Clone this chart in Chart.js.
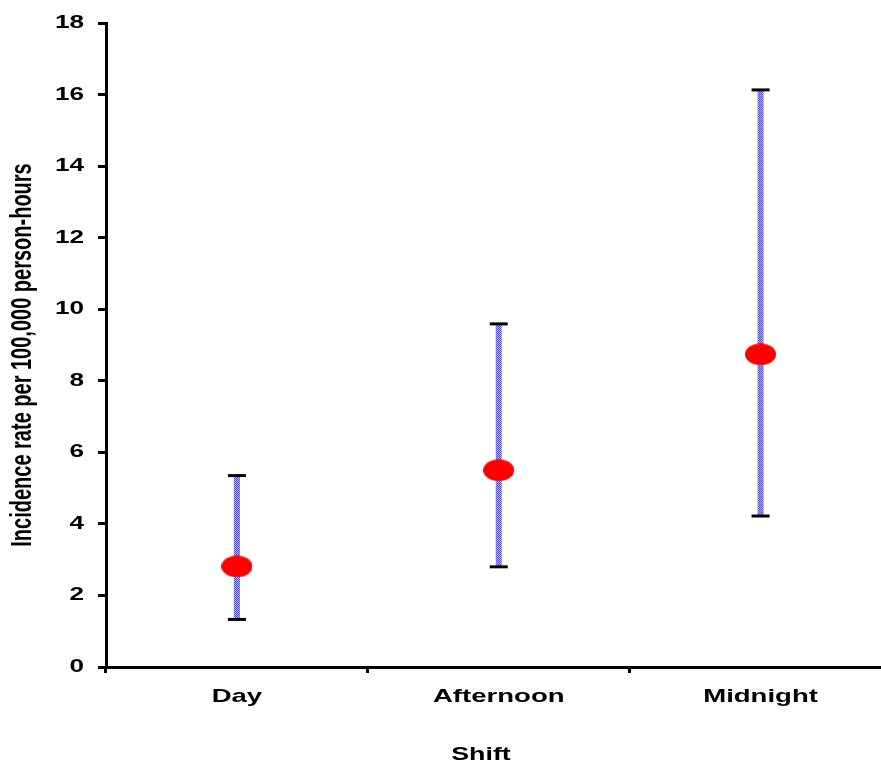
<!DOCTYPE html>
<html>
<head>
<meta charset="utf-8">
<script src="https://cdn.jsdelivr.net/npm/chart.js@4.4.1/dist/chart.umd.min.js"></script>
<style>
html, body { margin: 0; padding: 0; background: #fff; overflow: hidden; }
#contenedor { width: 881px; height: 764px; position: relative; }
</style>
</head>
<body>
<div id="contenedor"><canvas id="myChart"></canvas></div>
<script>
// datos
var Turnos = ['Day', 'Afternoon', 'Midnight']
var Incidencia = [2.81, 5.50, 8.74]
var Inferior = [1.33, 2.80, 4.22]
var Superior = [5.35, 9.59, 16.13]

var TituloY = 'Incidence rate per 100,000 person-hours'
var TituloX = 'Shift'

var FUENTE = "'Liberation Sans', Arial, sans-serif"
var K = 1.45 // el texto original esta estirado en horizontal

// punto eliptico rojo
var punto = document.createElement('canvas')
punto.width = 31
punto.height = 22
var pctx = punto.getContext('2d')
pctx.fillStyle = '#ff0000'
pctx.beginPath()
pctx.ellipse(15.5, 11, 15.5, 10.8, 0, 0, Math.PI * 2)
pctx.fill()

// trama azul de las barras de error
var trama = document.createElement('canvas')
trama.width = 2
trama.height = 2
var tctx = trama.getContext('2d')
tctx.fillStyle = '#aeb0ff'
tctx.fillRect(0, 0, 2, 2)
tctx.fillStyle = '#4a4cff'
tctx.fillRect(0, 0, 1, 1)
tctx.fillRect(1, 1, 1, 1)
var azul = document.getElementById('myChart').getContext('2d').createPattern(trama, 'repeat')

var datasets = []
datasets.push({
    type: 'scatter',
    label: 'Incidencia',
    data: Incidencia.map(function (v, i) { return { x: i, y: v } }),
    pointStyle: punto,
    pointRadius: 12
})
var extremos = []
for (var i = 0; i < Turnos.length; i++) {
    extremos.push({ x: i, y: Inferior[i] })
    extremos.push({ x: i, y: Superior[i] })
}
datasets.push({
    type: 'scatter',
    label: 'Extremos',
    data: extremos,
    pointStyle: 'line',
    pointRadius: 9,
    borderWidth: 3,
    borderColor: '#000000',
    backgroundColor: '#000000'
})
for (var j = 0; j < Turnos.length; j++) {
    datasets.push({
        type: 'line',
        label: 'IC ' + Turnos[j],
        data: [{ x: j, y: Inferior[j] }, { x: j, y: Superior[j] }],
        borderColor: azul,
        borderWidth: 6,
        borderCapStyle: 'butt',
        pointRadius: 0,
        fill: false
    })
}

// estirar etiquetas en horizontal manteniendo su posicion
function estirarEtiquetas(s) {
    var gli = s.getLabelItems
    s.getLabelItems = function (a) {
        return gli.call(this, a).map(function (it) {
            var op = Object.assign({}, it.options)
            op.translation = [it.options.translation[0] / K, it.options.translation[1]]
            return Object.assign({}, it, { options: op })
        })
    }
    var dl = s.drawLabels
    s.drawLabels = function (a) {
        var c = this.ctx
        c.save(); c.scale(K, 1)
        dl.call(this, a)
        c.restore()
    }
}

var estirado = {
    id: 'estirado',
    beforeDraw: function (chart) {
        var sx = chart.scales.x, sy = chart.scales.y
        if (sx._estirado) return
        estirarEtiquetas(sx)
        estirarEtiquetas(sy)
        var dtx = sx.drawTitle
        sx.drawTitle = function (a) {
            var c = this.ctx
            c.save()
            c.translate(481, 0); c.scale(K, 1); c.translate(-(this.left + this.right) / 2, 0)
            dtx.call(this, a)
            c.restore()
        }
        var dty = sy.drawTitle
        sy.drawTitle = function (a) {
            var c = this.ctx
            c.save()
            c.translate(0, 355); c.scale(1, 1 / K); c.translate(0, -(this.top + this.bottom) / 2)
            dty.call(this, a)
            c.restore()
        }
        sx._estirado = true
    }
}

var ctx = document.getElementById('myChart')
var myChart = new Chart(ctx, {
    type: 'scatter',
    data: { datasets: datasets },
    options: {
        responsive: true,
        maintainAspectRatio: false,
        animation: false,
        layout: { autoPadding: false, padding: { top: 23, left: 0, right: 0, bottom: 0 } },
        plugins: { legend: { display: false }, tooltip: { enabled: false } },
        scales: {
            x: {
                type: 'linear',
                min: -0.5,
                max: 2.46,
                afterBuildTicks: function (s) {
                    s.ticks = Turnos.map(function (t, i) { return { value: i } })
                },
                afterFit: function (s) {
                    s.height = 97
                    s.paddingLeft = 0
                    s.paddingRight = 0
                },
                ticks: {
                    autoSkip: false,
                    maxRotation: 0,
                    padding: 12,
                    color: '#000000',
                    font: { family: FUENTE, size: 19, weight: 'bold' },
                    callback: function (v, i) { return Turnos[i] }
                },
                grid: { offset: true, drawOnChartArea: false, tickLength: 6, tickWidth: 3, color: '#000000' },
                border: { display: true, color: '#000000', width: 3 },
                title: {
                    display: true,
                    text: TituloX,
                    color: '#000000',
                    padding: 0,
                    font: { family: FUENTE, size: 18.5, weight: 'bold', lineHeight: 0.94 }
                }
            },
            y: {
                min: 0,
                max: 18,
                afterFit: function (s) {
                    s.width = 106
                    s.paddingTop = 0
                    s.paddingBottom = 0
                },
                ticks: {
                    stepSize: 2,
                    padding: 14,
                    color: '#000000',
                    font: { family: FUENTE, size: 18, weight: 'bold' }
                },
                grid: { drawOnChartArea: false, tickLength: 8, tickWidth: 3, color: '#000000' },
                border: { display: true, color: '#000000', width: 3 },
                title: {
                    display: true,
                    text: TituloY,
                    color: '#000000',
                    padding: { top: 8.5, bottom: 0 },
                    font: { family: FUENTE, size: 29, weight: 'bold', lineHeight: 1 }
                }
            }
        }
    },
    plugins: [estirado]
})
</script>
</body>
</html>
